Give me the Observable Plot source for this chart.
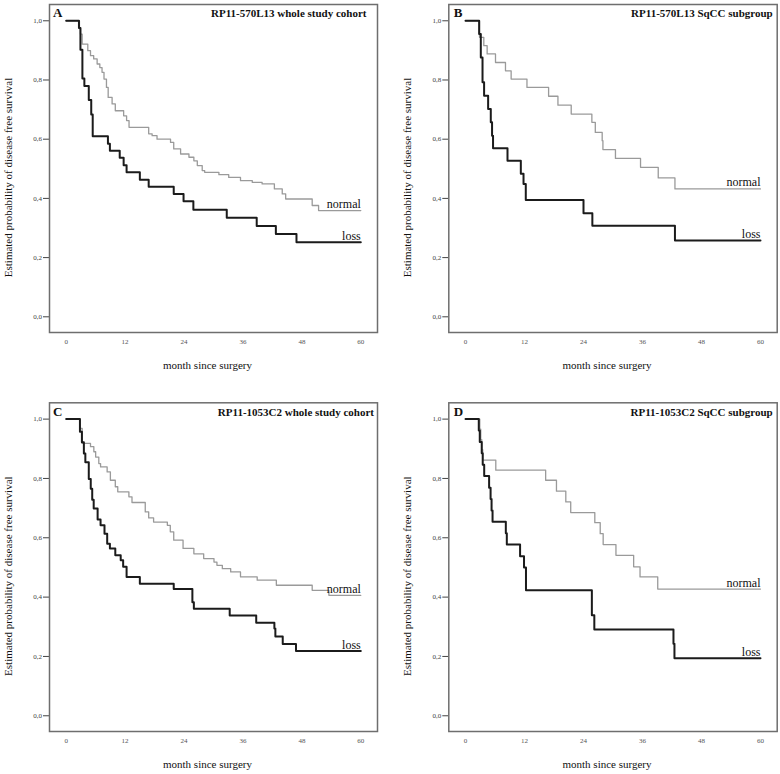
<!DOCTYPE html>
<html><head><meta charset="utf-8">
<script src="https://cdn.jsdelivr.net/npm/d3@7"></script>
<script src="https://cdn.jsdelivr.net/npm/@observablehq/plot@0.6"></script>
<style>
body{margin:0;background:#fff;}
#root{position:relative;width:780px;height:774px;overflow:hidden;font-family:"Liberation Serif",serif;}
.panel{position:absolute;width:390px;height:387px;}
</style></head><body><div id="root"></div>
<script>
// Tick values
const xTicks = [0, 12, 24, 36, 48, 60];
const yTicks = [0, 0.2, 0.4, 0.6, 0.8, 1.0];

// Panel A: RP11-570L13 whole study cohort
const aLossT = [0, 2.6, 2.9, 3.3, 3.7, 4.6, 5.1, 5.4, 8.5, 8.9, 10.9, 11.7, 12.3, 15.0, 16.8, 21.9, 23.9, 25.9, 32.7, 38.8, 42.7, 46.9, 60];
const aLossS = [1, 0.976, 0.902, 0.805, 0.78, 0.732, 0.683, 0.61, 0.585, 0.561, 0.537, 0.512, 0.488, 0.463, 0.439, 0.415, 0.39, 0.362, 0.335, 0.307, 0.28, 0.252, 0.252];
const aNormT = [0, 2.7, 2.9, 3.25, 4.4, 4.95, 5.6, 6.3, 6.85, 7.3, 7.7, 8.2, 8.55, 9.35, 10.0, 11.7, 12.3, 12.8, 16.8, 17.5, 18.5, 21.25, 21.9, 23.3, 25.0, 26.0, 26.7, 27.7, 28.2, 31.1, 33.1, 35.5, 37.9, 39.9, 42.4, 44.0, 44.7, 50.1, 51.4, 60];
const aNormS = [1, 0.975, 0.955, 0.921, 0.899, 0.882, 0.871, 0.854, 0.842, 0.826, 0.803, 0.775, 0.741, 0.719, 0.696, 0.679, 0.663, 0.64, 0.618, 0.612, 0.6, 0.589, 0.567, 0.55, 0.539, 0.527, 0.511, 0.494, 0.488, 0.48, 0.471, 0.46, 0.454, 0.449, 0.432, 0.415, 0.398, 0.376, 0.359, 0.359];

// Panel B: RP11-570L13 SqCC subgroup
const bLossT = [0, 2.77, 3.11, 3.46, 3.78, 4.6, 5.14, 5.4, 5.6, 8.54, 11.25, 11.8, 12.26, 24.0, 25.8, 42.6, 60];
const bLossS = [1, 0.955, 0.876, 0.792, 0.747, 0.702, 0.657, 0.612, 0.569, 0.527, 0.483, 0.449, 0.395, 0.35, 0.308, 0.258, 0.258];
const bNormT = [0, 2.85, 3.72, 4.4, 6.1, 8.13, 9.28, 12.5, 16.9, 18.8, 21.5, 25.7, 26.4, 27.8, 27.95, 30.5, 35.6, 39.2, 42.6, 60];
const bNormS = [1, 0.944, 0.916, 0.888, 0.859, 0.831, 0.803, 0.775, 0.745, 0.715, 0.685, 0.657, 0.623, 0.595, 0.565, 0.535, 0.505, 0.469, 0.432, 0.432];

// Panel C: RP11-1053C2 whole study cohort
const cLossT = [0, 2.8, 3.2, 3.6, 3.9, 4.6, 5.0, 5.3, 5.6, 6.4, 7.0, 7.8, 8.35, 8.9, 10.0, 11.1, 11.6, 12.3, 15.0, 21.9, 25.7, 26.0, 33.3, 38.7, 42.4, 42.6, 44.1, 46.8, 60];
const cLossS = [1, 0.957, 0.922, 0.884, 0.855, 0.798, 0.765, 0.728, 0.699, 0.662, 0.642, 0.614, 0.58, 0.564, 0.541, 0.524, 0.502, 0.468, 0.445, 0.427, 0.383, 0.361, 0.338, 0.314, 0.294, 0.267, 0.242, 0.218, 0.218];
const cNormT = [0, 2.8, 3.25, 4.95, 5.63, 6.0, 6.64, 7.0, 8.34, 9.0, 10.0, 10.5, 12.77, 13.4, 16.1, 16.8, 17.8, 20.6, 21.2, 21.9, 23.8, 26.0, 28.0, 30.1, 30.7, 31.8, 33.5, 35.5, 38.9, 42.8, 50.1, 53.5, 60];
const cNormS = [1, 0.969, 0.918, 0.907, 0.89, 0.872, 0.85, 0.839, 0.822, 0.794, 0.772, 0.755, 0.738, 0.719, 0.687, 0.667, 0.653, 0.642, 0.62, 0.592, 0.564, 0.546, 0.53, 0.518, 0.507, 0.496, 0.485, 0.468, 0.457, 0.44, 0.423, 0.406, 0.406];

// Panel D: RP11-1053C2 SqCC subgroup
const dLossT = [0, 2.7, 2.9, 3.3, 3.5, 3.8, 4.8, 5.1, 5.3, 5.5, 8.2, 8.4, 11.1, 11.9, 12.3, 25.7, 26.2, 42.3, 42.5, 60];
const dLossS = [1, 0.962, 0.923, 0.885, 0.846, 0.808, 0.769, 0.731, 0.692, 0.654, 0.615, 0.577, 0.538, 0.5, 0.423, 0.339, 0.291, 0.243, 0.194, 0.194];
const dNormT = [0, 2.9, 3.1, 3.3, 3.5, 6.16, 16.3, 18.5, 20.4, 21.4, 26.3, 27.4, 28.0, 30.6, 34.2, 35.5, 39.1, 60];
const dNormS = [1, 0.966, 0.931, 0.897, 0.862, 0.828, 0.794, 0.757, 0.721, 0.685, 0.651, 0.614, 0.577, 0.541, 0.502, 0.468, 0.427, 0.427];

const letters = ["A", "B", "C", "D"];
const titles = ["RP11-570L13 whole study cohort", "RP11-570L13 SqCC subgroup", "RP11-1053C2 whole study cohort", "RP11-1053C2 SqCC subgroup"];
const groupNames = ["normal", "loss"];
const xLabel = "month since surgery";
const yLabel = "Estimated probability of disease free survival";

const series = [
  [aNormT, aNormS, aLossT, aLossS],
  [bNormT, bNormS, bLossT, bLossS],
  [cNormT, cNormS, cLossT, cLossS],
  [dNormT, dNormS, dLossT, dLossS]
];

const layout = [
  {left: 0, top: 0, mt: 4, mb: 55, ml: 49, mr: 13, titleDx: -11, letterDx: 3.5},
  {left: 390, top: 0, mt: 4, mb: 55, ml: 58.3, mr: 3.3, titleDx: -4.5, letterDx: 5},
  {left: 0, top: 387, mt: 15.3, mb: 43, ml: 49, mr: 13, titleDx: -3.5, letterDx: 3.5},
  {left: 390, top: 387, mt: 15.3, mb: 43, ml: 58.3, mr: 3.3, titleDx: -4.5, letterDx: 5}
];

const root = document.getElementById("root");
const font = '"Liberation Serif", "Times New Roman", serif';
const rows = (T, S) => T.map((t, i) => ({t, s: S[i]}));

series.forEach(([nT, nS, lT, lS], i) => {
  const L = layout[i];
  const norm = rows(nT, nS), loss = rows(lT, lS);
  const ends = [
    {t: nT[nT.length - 1], s: nS[nS.length - 1], label: groupNames[0]},
    {t: lT[lT.length - 1], s: lS[lS.length - 1], label: groupNames[1]}
  ];
  const chart = Plot.plot({
    width: 390, height: 387,
    marginTop: L.mt, marginBottom: L.mb, marginLeft: L.ml, marginRight: L.mr,
    style: {fontFamily: font, background: "transparent"},
    x: {domain: [-3.4, 63.4]},
    y: {domain: [-0.053, 1.055]},
    marks: [
      Plot.axisX({ticks: xTicks, tickSize: 0, tickPadding: 7, fontSize: 7, color: "#555", label: null}),
      Plot.axisY({ticks: yTicks, tickSize: 6, tickPadding: 1.5, fontSize: 7, color: "#444", label: null,
        tickFormat: d => d.toFixed(1).replace(".", ",")}),
      Plot.frame({stroke: "#6e6e6e", strokeWidth: 1.5}),
      Plot.line(norm, {x: "t", y: "s", curve: "step-after", stroke: "#9a9a9a", strokeWidth: 1.3}),
      Plot.line(loss, {x: "t", y: "s", curve: "step-after", stroke: "#1b1b1b", strokeWidth: 2}),
      Plot.text(ends, {x: "t", y: "s", text: "label", textAnchor: "end", lineAnchor: "bottom", dy: -2.5, fontSize: 12, fill: "#111"}),
      Plot.text([titles[i]], {frameAnchor: "top-right", textAnchor: "end", lineAnchor: "bottom", dx: L.titleDx, dy: 12.7, fontSize: 11, fontWeight: "bold", fill: "#111"}),
      Plot.text([letters[i]], {frameAnchor: "top-left", textAnchor: "start", lineAnchor: "bottom", dx: L.letterDx, dy: 12.7, fontSize: 13, fontWeight: "bold", fill: "#111"}),
      Plot.text([xLabel], {frameAnchor: "bottom", textAnchor: "middle", lineAnchor: "middle", dx: -6, dy: 32.5, fontSize: 11, fill: "#111"}),
      Plot.text([yLabel], {frameAnchor: "left", textAnchor: "middle", lineAnchor: "middle", rotate: -90, dx: -41, dy: 9, fontSize: 11, fill: "#111"})
    ]
  });
  const div = document.createElement("div");
  div.className = "panel";
  div.style.left = L.left + "px";
  div.style.top = L.top + "px";
  div.appendChild(chart);
  root.appendChild(div);
});
</script>
</body></html>
